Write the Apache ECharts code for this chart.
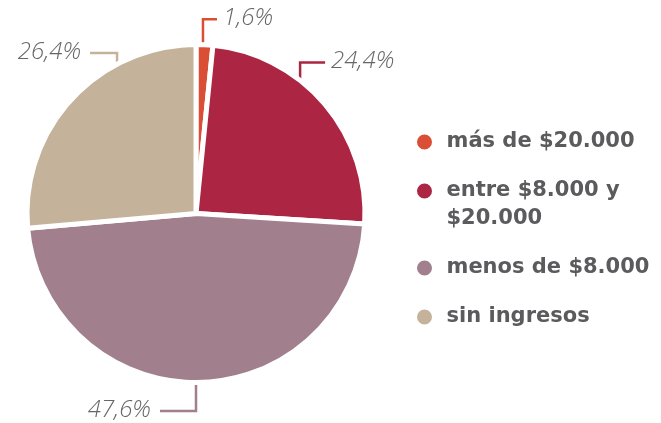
<!DOCTYPE html>
<html><head><meta charset="utf-8">
<script src="https://cdn.jsdelivr.net/npm/echarts@6/dist/echarts.min.js"></script>
<style>html,body{margin:0;padding:0;background:#fff}#c{width:661px;height:423px}</style>
</head><body><div id="c"></div>
<script>
// ---- data ----
const categories = ['más de $20.000', 'entre $8.000 y $20.000', 'menos de $8.000', 'sin ingresos'];
const values = [1.6, 24.4, 47.6, 26.4];
const valueLabels = ['1,6%', '24,4%', '47,6%', '26,4%'];
const legendLabels = ['más de $20.000', 'entre $8.000 y\n$20.000', 'menos de $8.000', 'sin ingresos'];
const colors = ['#DA4E36', '#AC2542', '#A17F8D', '#C4B39A'];

// ---- layout ----
const CX = 196, CY = 213.5, R = 169, BORDER = 5;
const RV = R - BORDER / 2;
// callout: anchor angle on rim (deg clockwise from top), vertical segment, horizontal segment
const callouts = [
  { ang: 2.4, rise: -28, run: 14 },
  { ang: 38.7, rise: -21, run: 25 },
  { ang: 180, rise: 31, run: -36 },
  { ang: -28.3, rise: -14, run: -27 }
];
const legendTops = [128, 149, 254, 303];

const chart = echarts.init(document.getElementById('c'), null, { renderer: 'canvas' });

const legendFont = { fontFamily: 'DejaVu Sans', fontWeight: 'bold', fontSize: 21, color: '#5B5B5D', lineHeight: 28 };

chart.setOption({
  animation: false,
  color: colors,
  legend: categories.map((c, i) => ({
    data: [c],
    left: 415,
    top: legendTops[i],
    orient: 'vertical',
    padding: 0,
    icon: 'circle',
    itemWidth: 34,
    itemHeight: 17,
    selectedMode: false,
    formatter: () => (i === 1 ? '\n' : '') + legendLabels[i],
    textStyle: legendFont
  })),
  series: [{
    type: 'pie',
    center: [CX, CY],
    radius: R,
    startAngle: 90,
    clockwise: true,
    avoidLabelOverlap: false,
    itemStyle: { borderColor: '#fff', borderWidth: BORDER },
    label: {
      show: true,
      position: 'outside',
      formatter: p => valueLabels[p.dataIndex],
      fontFamily: 'Open Sans',
      fontStyle: 'italic',
      fontWeight: 300,
      fontSize: 24,
      color: '#666'
    },
    labelLine: { show: true, lineStyle: { width: 2.5 } },
    labelLayout: function (p) {
      const c = callouts[p.dataIndex];
      const a = c.ang * Math.PI / 180;
      const x0 = CX + RV * Math.sin(a);
      const y0 = CY - RV * Math.cos(a);
      const y1 = y0 + c.rise;
      const x2 = x0 + c.run;
      const right = c.run > 0;
      return {
        x: x2 + (right ? 6 : -9),
        y: y1 - 1,
        align: right ? 'left' : 'right',
        verticalAlign: 'middle',
        labelLinePoints: [[x0, y0], [x0, y1], [x2, y1]]
      };
    },
    data: categories.map((c, i) => ({
      name: c,
      value: values[i],
      labelLine: { lineStyle: { color: colors[i] } }
    }))
  }]
});
</script>
</body></html>
